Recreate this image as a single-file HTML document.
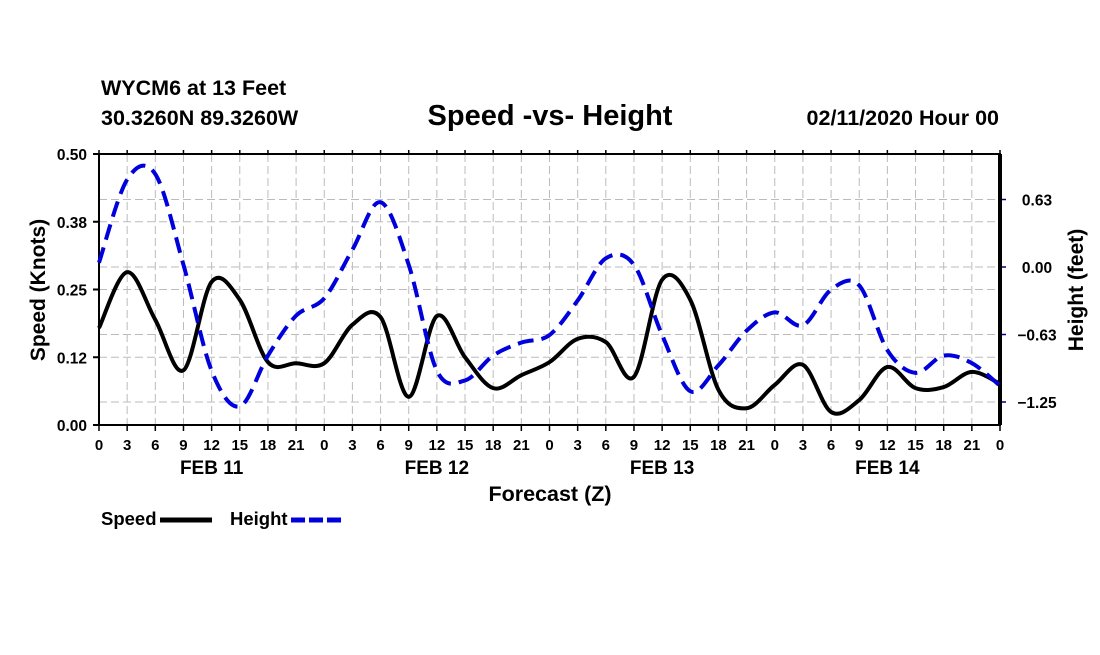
<!DOCTYPE html>
<html><head><meta charset="utf-8"><style>
body{margin:0;background:#fff;}
svg text{font-family:"Liberation Sans",Arial,sans-serif;font-weight:bold;fill:#000;}
</style></head><body>
<svg id="chart" width="1100" height="650" xmlns="http://www.w3.org/2000/svg">
<text x="101" y="95" font-size="21.5">WYCM6 at 13 Feet</text>
<text x="101" y="125" font-size="21.5">30.3260N 89.3260W</text>
<text x="550" y="125" font-size="29" text-anchor="middle">Speed -vs- Height</text>
<text x="999" y="125" font-size="21.5" text-anchor="end">02/11/2020 Hour 00</text>
<g id="grid"></g>
<g id="axes"></g>
<g id="series"></g>
<text x="550" y="501" font-size="21.5" text-anchor="middle">Forecast (Z)</text>
<text transform="translate(45,290) rotate(-90)" font-size="21" text-anchor="middle">Speed (Knots)</text>
<text transform="translate(1083,290) rotate(-90)" font-size="21" text-anchor="middle">Height (feet)</text>
<g><text x="101" y="525" font-size="18.5">Speed</text><line x1="160" y1="520" x2="212" y2="520" stroke="#000" stroke-width="5"/></g>
<g><text x="230" y="525" font-size="18.5">Height</text><line x1="291" y1="520" x2="342" y2="520" stroke="#0000dd" stroke-width="5" stroke-dasharray="14,4"/></g>
</svg>
<script>
const hours=[0,3,6,9,12,15,18,21,24,27,30,33,36,39,42,45,48,51,54,57,60,63,66,69,72,75,78,81,84,87,90,93,96];
const speedValues=[0.179,0.282,0.194,0.101,0.264,0.231,0.116,0.114,0.114,0.185,0.199,0.052,0.201,0.125,0.068,0.092,0.116,0.159,0.153,0.089,0.268,0.231,0.065,0.031,0.074,0.111,0.024,0.046,0.107,0.068,0.070,0.098,0.076];
const heightValues=[0.04,0.81,0.86,0.02,-0.96,-1.29,-0.82,-0.45,-0.29,0.16,0.60,0.02,-0.96,-1.05,-0.82,-0.70,-0.63,-0.31,0.08,0.02,-0.63,-1.15,-0.91,-0.59,-0.42,-0.54,-0.21,-0.17,-0.77,-0.98,-0.82,-0.89,-1.10];
const leftTicks=[0,0.125,0.25,0.375,0.5];
const leftLabels=["0.00","0.12","0.25","0.38","0.50"];
const rightTicks=[-1.25,-0.625,0,0.625];
const rightLabels=["\u22121.25","\u22120.63","0.00","0.63"];
const dayLabels=["FEB 11","FEB 12","FEB 13","FEB 14"];
const X0=99,X1=1000,Y0=425,Y1=154;
const xs=h=>X0+(X1-X0)*h/96;
const yL=v=>Y0-(Y0-Y1)*v/0.5;
const yR=v=>267-v*(67.5/0.625);
const NS="http://www.w3.org/2000/svg";
function mk(tag,attrs,parent){const e=document.createElementNS(NS,tag);for(const k in attrs)e.setAttribute(k,attrs[k]);parent.appendChild(e);return e;}
const grid=document.getElementById('grid'),axes=document.getElementById('axes'),series=document.getElementById('series');
for(let i=1;i<32;i++){const l=mk('line',{x1:xs(i*3),x2:xs(i*3),y1:Y1,y2:Y0,stroke:'#bbb','stroke-dasharray':'8,4'},grid);

}
leftTicks.forEach((t,i)=>{const y=yL(t);
if(i>0&&i<leftTicks.length-1){const g=mk('line',{x1:X0,x2:X1,y1:y,y2:y,stroke:'#bbb','stroke-dasharray':'8,4'},grid);

}
mk('line',{x1:X0-6,x2:X0,y1:y,y2:y,stroke:'#000','stroke-width':2},axes);
const tx=mk('text',{x:X0-12,y:y+6,'font-size':15.5,'text-anchor':'end'},axes);tx.textContent=leftLabels[i];

});
rightTicks.forEach((t,i)=>{const y=yR(t);
const g=mk('line',{x1:X0,x2:X1,y1:y,y2:y,stroke:'#bbb','stroke-dasharray':'8,4'},grid);


mk('line',{x1:X1,x2:X1+6,y1:y,y2:y,stroke:'#000080','stroke-width':1.5},axes);
const tx=mk('text',{x:1037,y:y+6,'font-size':15.5,'text-anchor':'middle'},axes);tx.textContent=rightLabels[i];

});
mk('rect',{x:X0,y:Y1,width:X1-X0,height:Y0-Y1,fill:'none',stroke:'#000','stroke-width':2},axes);
mk('line',{x1:X1,x2:X1,y1:Y1,y2:Y0,stroke:'#000','stroke-width':4},axes);
for(let i=0;i<=32;i++){const x=xs(i*3);
mk('line',{x1:x,x2:x,y1:Y0,y2:Y0+6,stroke:'#000','stroke-width':1.5},axes);
mk('line',{x1:x,x2:x,y1:Y1,y2:Y1-4,stroke:'#000','stroke-width':1.5},axes);
const tx=mk('text',{x:x,y:Y0+25,'font-size':15,'text-anchor':'middle'},axes);tx.textContent=String((i*3)%24);

}
dayLabels.forEach((d,i)=>{const tx=mk('text',{x:xs(i*24+12),y:Y0+49,'font-size':19,'text-anchor':'middle'},axes);tx.textContent=d;

});
function path(vals,yf){const p=hours.map((h,i)=>[xs(h),yf(vals[i])]);let d='M'+p[0][0]+','+p[0][1];
for(let i=0;i<p.length-1;i++){const a=p[Math.max(0,i-1)],b=p[i],c=p[i+1],e=p[Math.min(p.length-1,i+2)];
d+=' C'+(b[0]+(c[0]-a[0])/6)+','+(b[1]+(c[1]-a[1])/6)+' '+(c[0]-(e[0]-b[0])/6)+','+(c[1]-(e[1]-b[1])/6)+' '+c[0]+','+c[1];}return d;}
const sp=mk('path',{d:path(speedValues,yL),fill:'none',stroke:'#000','stroke-width':4},series);


const hp=mk('path',{d:path(heightValues,yR),fill:'none',stroke:'#0000dd','stroke-width':4,'stroke-dasharray':'16,8'},series);


</script>
</body></html>
